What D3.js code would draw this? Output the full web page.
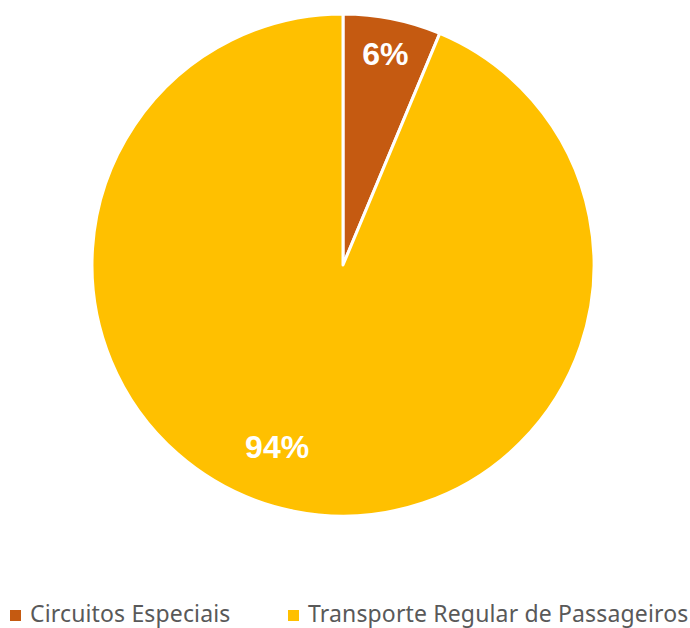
<!DOCTYPE html>
<html>
<head>
<meta charset="utf-8">
<script src="https://cdn.jsdelivr.net/npm/d3@7"></script>
<style>
  body { margin: 0; background: #fff; }
  svg { display: block; }
</style>
</head>
<body>
<div id="chart"></div>
<script>
// data
var categories = ["Circuitos Especiais", "Transporte Regular de Passageiros"];
var values = [6.3, 93.7];
var labels = ["6%", "94%"];
var colors = ["#C55A11", "#FFC000"];

var width = 690, height = 628;
var cx = 343, cy = 265, radius = 251;

var svg = d3.select("#chart").append("svg")
    .attr("width", width)
    .attr("height", height);

var pie = d3.pie().sort(null).value(function(d) { return d; });
var arcs = pie(values);

var arc = d3.arc().innerRadius(0).outerRadius(radius);

var g = svg.append("g").attr("transform", "translate(" + cx + "," + cy + ")");

g.selectAll("path.slice")
    .data(arcs)
    .enter().append("path")
    .attr("class", "slice")
    .attr("d", arc)
    .attr("fill", function(d, i) { return colors[i]; })
    .attr("stroke", "#fff")
    .attr("stroke-width", 3)
    .attr("stroke-linejoin", "round");

// label placement (Excel-like best fit)
var labelRadius = [0.86, 0.77];
var labelShift = [0, 0.15]; // radians
g.selectAll("text.lbl")
    .data(arcs)
    .enter().append("text")
    .attr("class", "lbl")
    .attr("transform", function(d, i) {
        var a = (d.startAngle + d.endAngle) / 2 + labelShift[i];
        var r = radius * labelRadius[i];
        return "translate(" + (Math.sin(a) * r) + "," + (-Math.cos(a) * r) + ")";
    })
    .attr("text-anchor", "middle")
    .attr("dy", "0.36em")
    .attr("fill", "#fff")
    .style("font-family", "'Liberation Sans', Arial, sans-serif")
    .style("font-weight", "bold")
    .style("font-size", "32px")
    .text(function(d, i) { return labels[i]; });

// legend
var legendX = [10, 288];
var legend = svg.append("g").attr("transform", "translate(0,614)");
var item = legend.selectAll("g")
    .data(categories)
    .enter().append("g")
    .attr("transform", function(d, i) { return "translate(" + legendX[i] + ",0)"; });

item.append("rect")
    .attr("x", 0).attr("y", -4)
    .attr("width", 11).attr("height", 11)
    .attr("fill", function(d, i) { return colors[i]; });

item.append("text")
    .attr("x", 20)
    .attr("dy", "0.36em")
    .attr("fill", "#595959")
    .style("font-family", "'Noto Sans', 'Open Sans', sans-serif")
    .style("font-size", "23px")
    .style("letter-spacing", "0.15px")
    .text(function(d) { return d; });
</script>
</body>
</html>
